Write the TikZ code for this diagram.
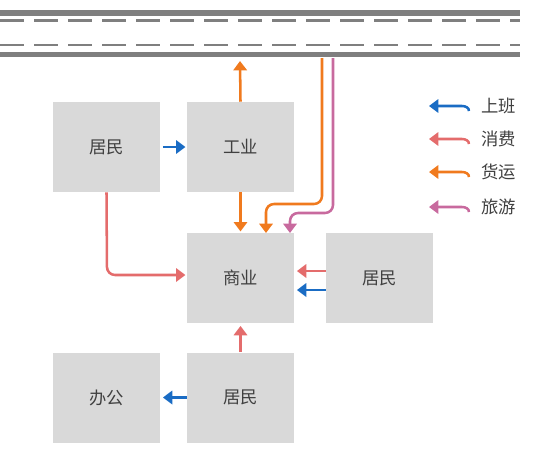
\documentclass[tikz,border=0pt]{standalone}
\usepackage{fontspec}
\newfontfamily\cjk{Noto Sans CJK SC}
\usetikzlibrary{arrows.meta}
\definecolor{boxgray}{HTML}{D9D9D9}
\definecolor{roadgray}{HTML}{7F7F7F}
\definecolor{txtgray}{HTML}{404040}
\definecolor{cblue}{HTML}{1A6CC4}
\definecolor{cred}{HTML}{E46C6C}
\definecolor{corange}{HTML}{F07A1E}
\definecolor{cpink}{HTML}{C86A9E}
\begin{document}
\begin{tikzpicture}[x=0.75pt,y=-0.75pt,
  area/.style={fill=boxgray,draw=none,minimum width=80.25pt,minimum height=67.5pt,inner sep=0pt,font=\cjk\fontsize{13pt}{15pt}\selectfont,text=txtgray},
  flow/.style={line width=1.9pt,-{Triangle[width=10pt,length=7pt]},rounded corners=6pt},
  legtxt/.style={font=\cjk\fontsize{13pt}{15pt}\selectfont,text=txtgray,anchor=west,inner sep=0pt}]
\useasboundingbox (0,0) rectangle (541,450);
% road
\fill[roadgray] (0,10) rectangle (520,16);
\fill[roadgray] (0,52) rectangle (520,57);
\draw[roadgray,line width=1.6pt,dash pattern=on 18pt off 7.5pt] (0,20.5) -- (520,20.5);
\draw[roadgray,line width=1.6pt,dash pattern=on 18pt off 7.5pt] (0,45) -- (520,45);
% boxes
\node[area] (r1) at (106.5,147) {居民};
\node[area] (ind) at (240.5,147) {工业};
\node[area] (com) at (240.5,278) {商业};
\node[area] (r2) at (379.5,278) {居民};
\node[area] (off) at (106.5,397.5) {办公};
\node[area] (r3) at (240.5,397.5) {居民};
% arrows
\draw[flow,cblue] ([xshift=2pt]r1.east) -- ([xshift=-1pt]ind.west);
\coordinate (up) at (240,61);
\draw[flow,corange] (ind.north) -- (up);
\draw[flow,corange] (ind.south) -- ([yshift=1pt]com.north);
\coordinate (o1) at (322,58);
\coordinate (p1) at (333,58);
\draw[flow,corange] (o1) -- (322,204) -- (266,204) -- (266,233);
\draw[flow,cpink] (p1) -- (333,213) -- (290,213) -- (290,233);
\draw[flow,cred] (r1.south) -- (107,275) -- ([xshift=-1pt]com.west |- 0,275);
\draw[flow,cred] (r2.west |- 0,271) -- ([xshift=2pt]com.east |- 0,271);
\draw[flow,cblue] (r2.west |- 0,290) -- ([xshift=2pt]com.east |- 0,290);
\draw[flow,cred] (r3.north) -- ([yshift=-2pt]com.south);
\draw[flow,cblue] (r3.west) -- ([xshift=2pt]off.east);
% legend
\foreach \y/\c/\t/\n in {106/cblue/上班/a,139/cred/消费/b,172/corange/货运/c,207/cpink/旅游/d}{
  \coordinate (ls\n) at (469,\y+5);
  \draw[line width=1.9pt,\c,-{Triangle[width=10pt,length=7pt]}] (ls\n) to[out=90,in=0] (462,\y) -- (429,\y);
  \node[legtxt] (lt\n) at (481,\y) {\t};
}
\end{tikzpicture}
\end{document}
